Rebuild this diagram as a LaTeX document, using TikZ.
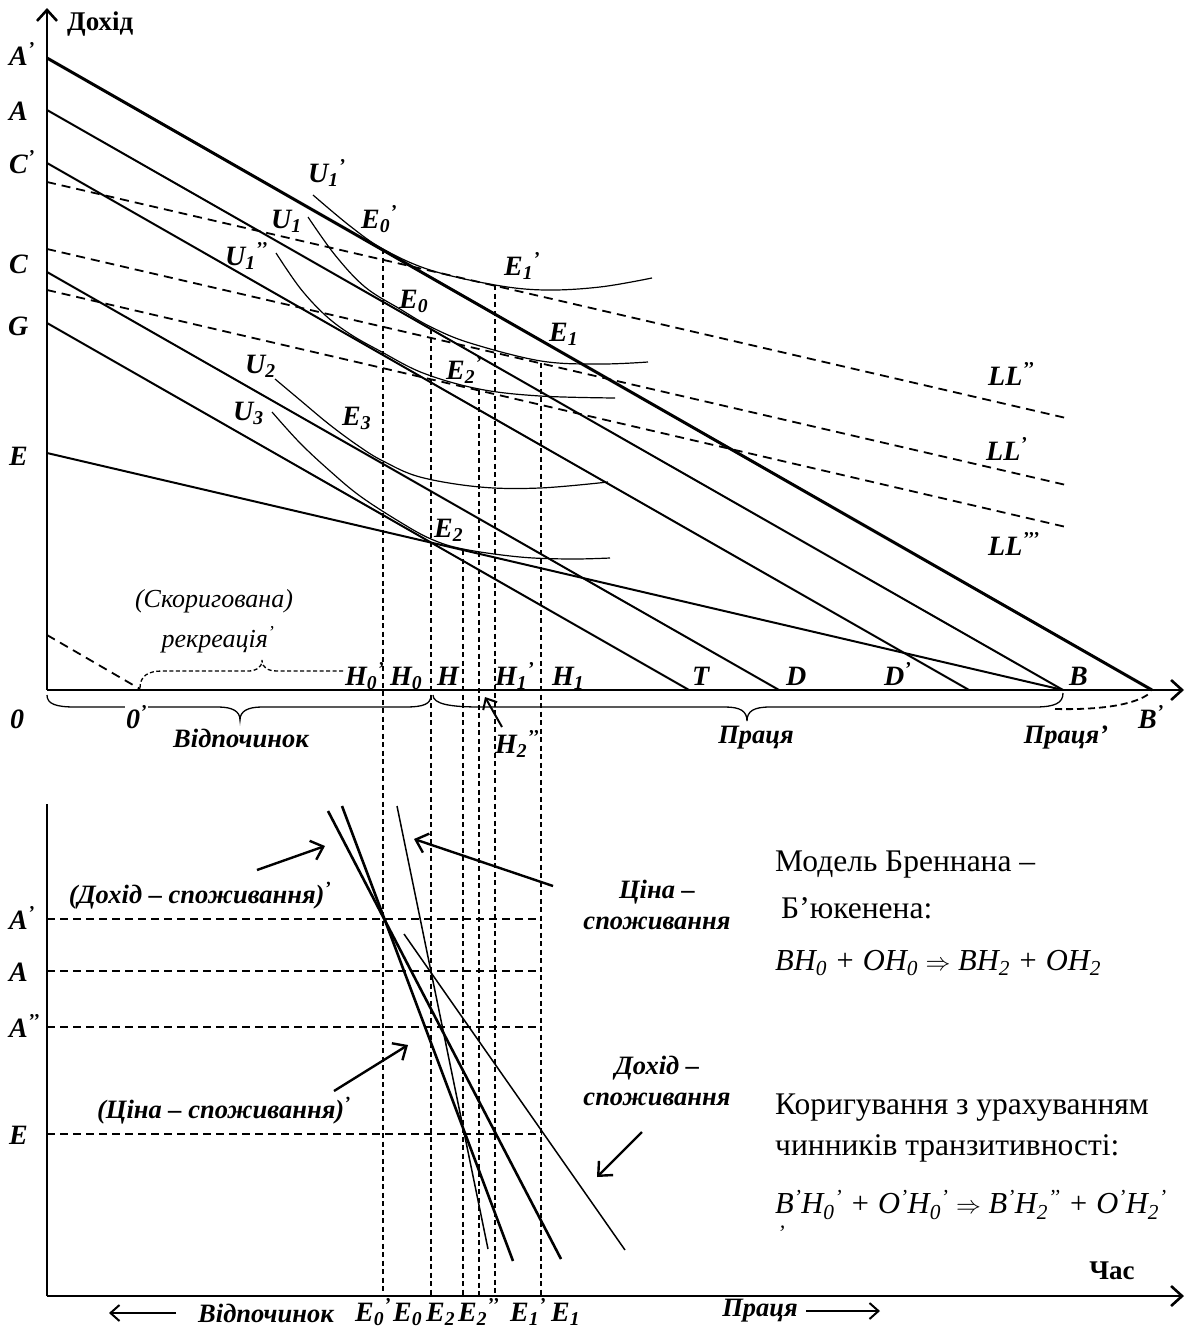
\documentclass[tikz,border=0pt]{standalone}
\usepackage{fontspec}
\setmainfont{Liberation Serif}
\usetikzlibrary{arrows.meta}
\newcommand{\pr}{\textsuperscript{’}}
\newcommand{\prr}{\textsuperscript{’’}}
\newcommand{\prrr}{\textsuperscript{’’’}}
\newcommand{\labfont}{\fontsize{28}{32}\selectfont\bfseries\itshape}
\newcommand{\wrdfont}{\fontsize{26.5}{31}\selectfont\bfseries\itshape}
\newcommand{\itfont}{\fontsize{26}{30}\selectfont\itshape}
\newcommand{\rtfont}{\fontsize{31.5}{36}\selectfont}
\newcommand{\fmfont}{\fontsize{30.5}{35}\selectfont\itshape}
\newcommand{\axfont}{\fontsize{27}{31}\selectfont\bfseries}
\begin{document}
\begin{tikzpicture}[x=1pt,y=-1pt,
  lab/.style={font=\labfont, inner sep=0pt, anchor=base west},
  wrd/.style={font=\wrdfont, inner sep=0pt, align=center},
  axl/.style={line width=2.6pt},
  thk/.style={line width=3pt},
  sol/.style={line width=2pt},
  thn/.style={line width=1.5pt},
  crv/.style={line width=1.2pt},
  lld/.style={line width=1.8pt, dash pattern=on 9pt off 6pt},
  vd/.style={line width=1.1pt, dash pattern=on 5pt off 3.5pt},
  hd/.style={line width=1.7pt, dash pattern=on 8pt off 5pt},
  barb/.style={-{Straight Barb[length=11pt,width=20pt]}},
  smallbarb/.style={-{Straight Barb[length=9pt,width=16pt]}},
]
\fill[white] (0,0) rectangle (1186,1336);
\useasboundingbox (0,0) rectangle (1186,1336);

% ---------- coordinates: top graph ----------
\coordinate (O) at (47,690);
\coordinate (Yt) at (47,8);
\coordinate (Xe) at (1184,690);
\coordinate (pA1) at (47,58);  \coordinate (pB1) at (1152,690);
\coordinate (pA) at (47,110);  \coordinate (pB) at (1063,690);
\coordinate (pC1) at (47,163); \coordinate (pD1) at (969,690);
\coordinate (pC2) at (47,272); \coordinate (pD) at (779,690);
\coordinate (pG) at (47,323);  \coordinate (pT) at (689,690);
\coordinate (pE) at (47,453);
\coordinate (ll2a) at (47,182); \coordinate (ll2b) at (1066,418);
\coordinate (ll1a) at (47,249); \coordinate (ll1b) at (1066,485);
\coordinate (ll3a) at (47,290); \coordinate (ll3b) at (1066,527);
\coordinate (rc) at (47,635); \coordinate (Op) at (140,689);

% vertical dashed guides
\coordinate (v1) at (383,249); \coordinate (w1) at (383,1296);
\coordinate (v2) at (431,329); \coordinate (w2) at (431,1296);
\coordinate (v3) at (463,550); \coordinate (w3) at (463,1296);
\coordinate (v4) at (479,390); \coordinate (w4) at (479,1296);
\coordinate (v5) at (495,285); \coordinate (w5) at (495,1296);
\coordinate (v6) at (541,363); \coordinate (w6) at (541,1296);

% ---------- coordinates: bottom graph ----------
\coordinate (bO) at (47,1296);
\coordinate (bYt) at (47,804);
\coordinate (bXe) at (1184,1296);
\coordinate (hA1a) at (47,919);  \coordinate (hA1b) at (542,919);
\coordinate (hAa) at (47,971);   \coordinate (hAb) at (542,971);
\coordinate (hA2a) at (47,1027); \coordinate (hA2b) at (542,1027);
\coordinate (hEa) at (47,1134);  \coordinate (hEb) at (542,1134);
\coordinate (P1) at (328,811); \coordinate (P2) at (561,1259);
\coordinate (Q1) at (342,806); \coordinate (Q2) at (513,1261);
\coordinate (R1) at (397,806); \coordinate (R2) at (488,1249);
\coordinate (S1) at (404,934); \coordinate (S2) at (625,1250);

% ---------- dashed guides ----------
\foreach \i in {1,...,6} \draw[vd] (v\i) -- (w\i);
\draw[hd] (hA1a) -- (hA1b);
\draw[hd] (hAa) -- (hAb);
\draw[hd] (hA2a) -- (hA2b);
\draw[hd] (hEa) -- (hEb);

% ---------- budget lines ----------
\draw[thk] (pA1) -- (pB1);
\draw[sol] (pA) -- (pB);
\draw[sol] (pC1) -- (pD1);
\draw[sol] (pC2) -- (pD);
\draw[sol] (pG) -- (pT);
\draw[sol] (pE) -- (pB);
\draw[lld] (ll2a) -- (ll2b);
\draw[lld] (ll1a) -- (ll1b);
\draw[lld] (ll3a) -- (ll3b);
\draw[lld] (rc) -- (Op);

% ---------- indifference curves ----------
\draw[crv] plot[smooth, tension=0.6] coordinates {(313,195) (350,226) (383,249) (430,270) (495,285) (545,290) (600,287) (652,278)};
\draw[crv] plot[smooth, tension=0.6] coordinates {(308,217) (335,255) (365,287) (400,309) (431,327) (470,343) (541,361) (600,364) (648,362)};
\draw[crv] plot[smooth, tension=0.6] coordinates {(276,253) (300,288) (325,315) (350,334) (380,351) (423,373) (479,389) (540,396) (615,398)};
\draw[crv] plot[smooth, tension=0.6] coordinates {(275,379) (300,400) (330,425) (360,447) (383,461) (420,477) (480,487) (540,488) (608,482)};
\draw[crv] plot[smooth, tension=0.6] coordinates {(272,412) (300,443) (330,471) (360,496) (400,522) (431,539) (463,549) (520,557) (570,559) (610,558)};

% ---------- axes top ----------
\draw[axl, barb] (O) -- (Yt);
\draw[axl, barb] (O) -- (Xe);

% braces
\draw[line width=1.3pt] (47,695) .. controls (47,704) and (56,707) .. (75,707) -- (218,707) .. controls (232,707) and (240,711) .. (240,720) .. controls (240,711) and (248,707) .. (262,707) -- (405,707) .. controls (424,707) and (431,704) .. (431,695);
\draw[line width=1.3pt] (433,695) .. controls (433,704) and (450,707) .. (480,707) -- (725,707) .. controls (740,707) and (747,711) .. (747,721) .. controls (747,711) and (754,707) .. (770,707) -- (1035,707) .. controls (1055,707) and (1063,703) .. (1063,693);
\draw[line width=1.3pt, dash pattern=on 4pt off 2.5pt] (140,688) .. controls (140,676) and (148,671) .. (162,671) -- (248,671) .. controls (256,671) and (262,668) .. (262,660) .. controls (262,668) and (268,671) .. (278,671) -- (345,671);
\draw[line width=1.8pt, dash pattern=on 7pt off 4pt] (1055,709) .. controls (1100,710) and (1135,705) .. (1150,693);

% H2'' arrow
\coordinate (h2t) at (502,727); \coordinate (h2h) at (485,697);
\draw[line width=2pt, smallbarb] (h2t) -- (h2h);

% ---------- top labels ----------
\node[font=\axfont, anchor=west, inner sep=0pt] (tDohid) at (67,24) {Дохід};
\node[lab] (lAp) at (9,65) {A\pr};
\node[lab] (lA) at (9,120) {A};
\node[lab] (lCp) at (9,173) {C\pr};
\node[lab] (lC) at (9,273) {C};
\node[lab] (lG) at (8,335) {G};
\node[lab] (lE) at (9,465) {E};

\node[lab] (lU1p) at (308,182) {U\textsubscript{1}\pr};
\node[lab] (lU1) at (271,228) {U\textsubscript{1}};
\node[lab] (lU1pp) at (225,265) {U\textsubscript{1}\prr};
\node[lab] (lE0p) at (361,228) {E\textsubscript{0}\pr};
\node[lab] (lE0) at (399,308) {E\textsubscript{0}};
\node[lab] (lE1p) at (504,275) {E\textsubscript{1}\pr};
\node[lab] (lE1) at (549,341) {E\textsubscript{1}};
\node[lab] (lE2p) at (446,379) {E\textsubscript{2}\pr};
\node[lab] (lE3) at (342,425) {E\textsubscript{3}};
\node[lab] (lU2) at (245,373) {U\textsubscript{2}};
\node[lab] (lU3) at (233,420) {U\textsubscript{3}};
\node[lab] (lE2) at (434,537) {E\textsubscript{2}};
\node[lab] (lLL2) at (988,385) {LL\prr};
\node[lab] (lLL1) at (986,460) {LL\pr};
\node[lab] (lLL3) at (988,555) {LL\prrr};

\node[font=\itfont, inner sep=0pt] (tSkor) at (214,601) {(Скоригована)};
\node[font=\itfont, inner sep=0pt] (tRekr) at (218,640) {рекреація\pr};

\node[lab] (lH0p) at (345,685) {H\textsubscript{0}\pr};
\node[lab] (lH0) at (390,685) {H\textsubscript{0}};
\node[lab] (lH) at (437,685) {H};
\node[lab] (lH1p) at (495,685) {H\textsubscript{1}\pr};
\node[lab] (lH1) at (552,685) {H\textsubscript{1}};
\node[lab] (lT) at (692,685) {T};
\node[lab] (lD) at (786,685) {D};
\node[lab] (lDp) at (884,685) {D\pr};
\node[lab] (lB) at (1069,685) {B};
\node[lab] (l0) at (10,728) {0};
\node[lab, fill=white, inner sep=1pt] (l0p) at (125,728) {0\pr};
\node[lab] (lH2pp) at (495,753) {H\textsubscript{2}\prr};
\node[lab] (lBp) at (1138,728) {B\pr};

\node[wrd] (tVidp) at (241,738) {Відпочинок};
\node[wrd] (tPr) at (756,738) {Праця};
\node[wrd] (tPrp) at (1066,738) {Праця’};

% ---------- bottom graph ----------
\draw[line width=2.6pt] (P1) -- (P2);
\draw[line width=2.6pt] (Q1) -- (Q2);
\draw[thn] (R1) -- (R2);
\draw[thn] (S1) -- (S2);
\draw[line width=1.3pt] (bO) -- (bYt);
\draw[axl, barb] (bO) -- (bXe);

\coordinate (a1t) at (257,870); \coordinate (a1h) at (325,846);
\coordinate (a2t) at (553,886); \coordinate (a2h) at (414,839);
\coordinate (a3t) at (334,1091); \coordinate (a3h) at (408,1045);
\coordinate (a4t) at (642,1132); \coordinate (a4h) at (597,1177);
\draw[line width=2.4pt, barb] (a1t) -- (a1h);
\draw[line width=2.4pt, barb] (a2t) -- (a2h);
\draw[line width=2.4pt, barb] (a3t) -- (a3h);
\draw[line width=2.4pt, barb] (a4t) -- (a4h);

\node[wrd] (tDS1) at (200,896) {(Дохід – споживання)\pr};
\node[wrd] (tCS1) at (224,1111) {(Ціна – споживання)\pr};
\node[wrd] (tCS) at (657,905) {Ціна –\\споживання};
\node[wrd] (tDS) at (657,1081) {Дохід –\\споживання};

\node[lab] (bAp) at (9,929) {A\pr};
\node[lab] (bA) at (9,981) {A};
\node[lab] (bApp) at (9,1037) {A\prr};
\node[lab] (bE) at (9,1144) {E};

\node[lab] (bE0p) at (355,1321) {E\textsubscript{0}\pr};
\node[lab] (bE0) at (393,1321) {E\textsubscript{0}};
\node[lab] (bE2) at (426,1321) {E\textsubscript{2}};
\node[lab] (bE2pp) at (458,1321) {E\textsubscript{2}\prr};
\node[lab] (bE1p) at (510,1321) {E\textsubscript{1}\pr};
\node[lab] (bE1) at (551,1321) {E\textsubscript{1}};
\node[wrd] (bVidp) at (266,1313) {Відпочинок};
\node[wrd] (bPr) at (760,1311) {Праця};
\coordinate (la1) at (176,1313); \coordinate (la2) at (109,1313);
\coordinate (ra1) at (806,1311); \coordinate (ra2) at (880,1311);
\draw[line width=2pt, smallbarb] (la1) -- (la2);
\draw[line width=2pt, smallbarb] (ra1) -- (ra2);
\node[font=\axfont, inner sep=0pt] (tChas) at (1112,1271) {Час};

% ---------- right text ----------
\node[font=\rtfont, anchor=west, inner sep=0pt] (m1) at (775,865) {Модель Бреннана –};
\node[font=\rtfont, anchor=west, inner sep=0pt] (m2) at (781,908) {Б’юкенена:};
\node[font=\fmfont, anchor=west, inner sep=0pt] (m3) at (775,963) {BH\textsubscript{0} + OH\textsubscript{0} {\upshape$\Rightarrow$} BH\textsubscript{2} + OH\textsubscript{2}};
\node[font=\rtfont, anchor=west, inner sep=0pt] (k1) at (775,1108) {Коригування з урахуванням};
\node[font=\rtfont, anchor=west, inner sep=0pt] (k2) at (775,1148) {чинників транзитивності:};
\node[font=\fmfont, anchor=west, inner sep=0pt] (k3) at (775,1205) {B\pr H\textsubscript{0}\pr{} + O\pr H\textsubscript{0}\pr{} {\upshape$\Rightarrow$} B\pr H\textsubscript{2}\prr{} + O\pr H\textsubscript{2}\pr};
\node[font=\fontsize{22}{24}\selectfont\itshape, inner sep=0pt, anchor=north] (k4) at (781,1226) {’};
\end{tikzpicture}
\end{document}
